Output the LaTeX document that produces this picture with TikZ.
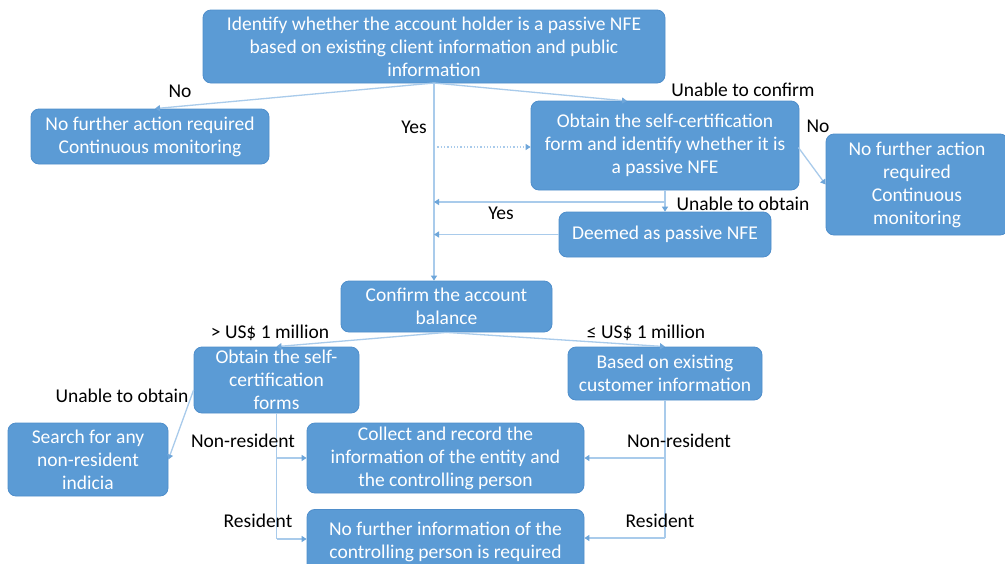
\documentclass[tikz,border=0pt]{standalone}
\usepackage{fontspec}
\setmainfont{Carlito}
\usetikzlibrary{arrows.meta,calc}
\definecolor{boxfill}{HTML}{5B9BD5}
\definecolor{boxline}{HTML}{4F8ECB}
\definecolor{linkc}{HTML}{A9CBEB}
\definecolor{tipc}{HTML}{6EA6DA}
\tikzset{
  flowbox/.style={rectangle, rounded corners=8pt, fill=boxfill, draw=boxline, line width=0.8pt,
    text=white, align=center, font=\fontsize{19.5}{23}\selectfont, inner sep=0pt},
  link/.style={draw=linkc, line width=1.3pt},
  arr/.style={link, -{Triangle[width=6pt,length=5pt,fill=tipc,color=tipc]}},
  lbl/.style={text=black, font=\fontsize{19.5}{22}\selectfont, inner sep=0pt}
}
\begin{document}
\begin{tikzpicture}[x=1pt,y=-1pt]
\useasboundingbox (0,0) rectangle (1005,563);
\clip (0,0) rectangle (1005,563);
\fill[white] (0,0) rectangle (1005,563);

% boxes
\node[flowbox, minimum width=462pt, minimum height=73pt] (top) at (434,46.5)
  {Identify whether the account holder is a passive NFE\\based on existing client information and public\\information};
\node[flowbox, minimum width=238pt, minimum height=55pt] (nfa) at (150,136.5)
  {No further action required\\Continuous monitoring};
\node[flowbox, minimum width=268pt, minimum height=89pt] (obtain) at (665,145.5)
  {Obtain the self-certification\\form and identify whether it is\\a passive NFE};
\node[flowbox, minimum width=182pt, minimum height=101pt] (nfb) at (917,184.5)
  {No further action\\required\\Continuous\\monitoring};
\node[flowbox, minimum width=212pt, minimum height=45pt] (deemed) at (665,234.5)
  {Deemed as passive NFE};
\node[flowbox, minimum width=211pt, minimum height=51pt] (confirm) at (446.5,306.5)
  {Confirm the account\\balance};
\node[flowbox, minimum width=165pt, minimum height=66pt] (forms) at (276.5,380)
  {Obtain the self-\\certification\\forms};
\node[flowbox, minimum width=194pt, minimum height=53pt] (based) at (665,373.5)
  {Based on existing\\customer information};
\node[flowbox, minimum width=160pt, minimum height=73pt] (search) at (88,459.5)
  {Search for any\\non-resident\\indicia};
\node[flowbox, minimum width=277pt, minimum height=70pt] (collect) at (445.5,458)
  {Collect and record the\\information of the entity and\\the controlling person};
\node[flowbox, minimum width=277pt, minimum height=64pt, anchor=north] (nofurther) at (445.5,509)
  {No further information of the\\controlling person is required};

% junction points
\coordinate (spine) at (434,83);
\coordinate (dotstart) at (spine |- 147,147);
\coordinate (fork) at (665,202);
\coordinate (formsout) at ($(forms.west)+(0,10)$);
\coordinate (lj1) at (forms.south |- collect.west);
\coordinate (lj2) at (forms.south |- 0,539);
\coordinate (rj1) at (based.south |- collect.east);
\coordinate (rj2) at (based.south |- 0,538);

% connectors
\draw[arr] (spine) -- ($(nfa.north)+(5,0)$);
\draw[arr] (spine) -- (627,101);
\draw[arr] (spine) -- (spine |- confirm.north);
\draw[arr, dotted] (dotstart) -- (obtain.west |- dotstart);
\draw[arr] (obtain.south) -- (deemed.north);
\draw[arr] (fork) -- (spine |- fork);
\draw[arr] (deemed.west) -- (spine |- deemed.west);
\draw[arr] ($(obtain.east)+(-1,2)$) -- (nfb.west);
\draw[arr] (confirm.south) -- (forms.north);
\draw[arr] (confirm.south) -- (based.north);
\draw[arr] (formsout) -- (search.east);
\draw[link] (forms.south) -- (lj2);
\draw[arr] (lj1) -- (collect.west);
\draw[arr] (lj2) -- (nofurther.west |- lj2);
\draw[link] (based.south) -- (rj2);
\draw[arr] (rj1) -- (collect.east);
\draw[arr] (rj2) -- (nofurther.east |- rj2);

% connector labels
\node[lbl] (lno1) at (180,91) {No};
\node[lbl] (lunconf) at (743,90) {Unable to confirm};
\node[lbl] (lyes1) at (414,127) {Yes};
\node[lbl] (lno2) at (818,126) {No};
\node[lbl] (lunobt1) at (743,204) {Unable to obtain};
\node[lbl] (lyes2) at (501,213) {Yes};
\node[lbl] (lgt) at (270,333) {> US\$ 1 million};
\node[lbl] (lle) at (646,333) {≤ US\$ 1 million};
\node[lbl] (lunobt2) at (122,396) {Unable to obtain};
\node[lbl] (lnr1) at (243,441) {Non-resident};
\node[lbl] (lr1) at (258,521) {Resident};
\node[lbl] (lnr2) at (679,441) {Non-resident};
\node[lbl] (lr2) at (660,521) {Resident};
\end{tikzpicture}
\end{document}
